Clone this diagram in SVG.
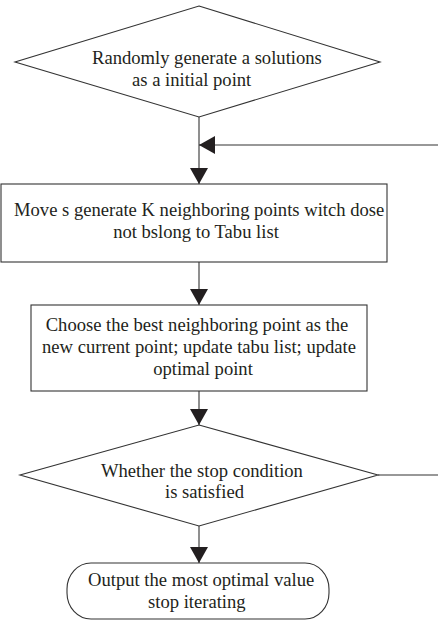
<svg xmlns="http://www.w3.org/2000/svg" width="438" height="622" viewBox="0 0 438 622">
<defs>
<marker id="ah" viewBox="0 0 16 18" refX="16" refY="9" markerWidth="16" markerHeight="18" markerUnits="userSpaceOnUse" orient="auto">
<path d="M0,0 L16,9 L0,18 z" fill="#231f20"/>
</marker>
<style>
.shape{fill:#fff;stroke:#333;stroke-width:1.1}
.t{font-family:"Liberation Serif","Times New Roman",serif;font-size:18.6px;fill:#231f20}
.c{fill:none;stroke:#333;stroke-width:1.1}
</style>
</defs>
<rect width="438" height="622" fill="#fff"/>
<g id="start">
<polygon class="shape" points="199,6 380,62 199,117 15,62"/>
<text class="t" x="92" y="64">Randomly generate a solutions</text>
<text class="t" x="132" y="86">as a initial point</text>
</g>
<g id="move">
<rect class="shape" x="1" y="184" width="386" height="78"/>
<text class="t" x="14" y="216">Move s generate K neighboring points witch dose</text>
<text class="t" x="196" y="238" text-anchor="middle">not bslong to Tabu list</text>
</g>
<g id="choose">
<rect class="shape" x="31" y="305" width="336" height="86"/>
<text class="t" x="197" y="331" text-anchor="middle">Choose the best neighboring point as the</text>
<text class="t" x="199" y="353" text-anchor="middle">new current point; update tabu list; update</text>
<text class="t" x="203" y="375" text-anchor="middle">optimal point</text>
</g>
<g id="cond">
<polygon class="shape" points="199,425 378,475 199,526 20,475"/>
<text class="t" x="101" y="477">Whether the stop condition</text>
<text class="t" x="165" y="498">is satisfied</text>
</g>
<g id="end">
<rect class="shape" x="67" y="563" width="262" height="56" rx="24" ry="26"/>
<text class="t" x="88" y="586">Output the most optimal value</text>
<text class="t" x="148" y="608">stop iterating</text>
</g>
<g id="connectors">
<line class="c" x1="199" y1="117" x2="199" y2="184" marker-end="url(#ah)"/>
<line class="c" x1="438" y1="145" x2="199" y2="145" marker-end="url(#ah)"/>
<line class="c" x1="199" y1="262" x2="199" y2="305" marker-end="url(#ah)"/>
<line class="c" x1="199" y1="391" x2="199" y2="425" marker-end="url(#ah)"/>
<line class="c" x1="378" y1="475" x2="438" y2="475"/>
<line class="c" x1="199" y1="526" x2="199" y2="563" marker-end="url(#ah)"/>
</g>
</svg>
